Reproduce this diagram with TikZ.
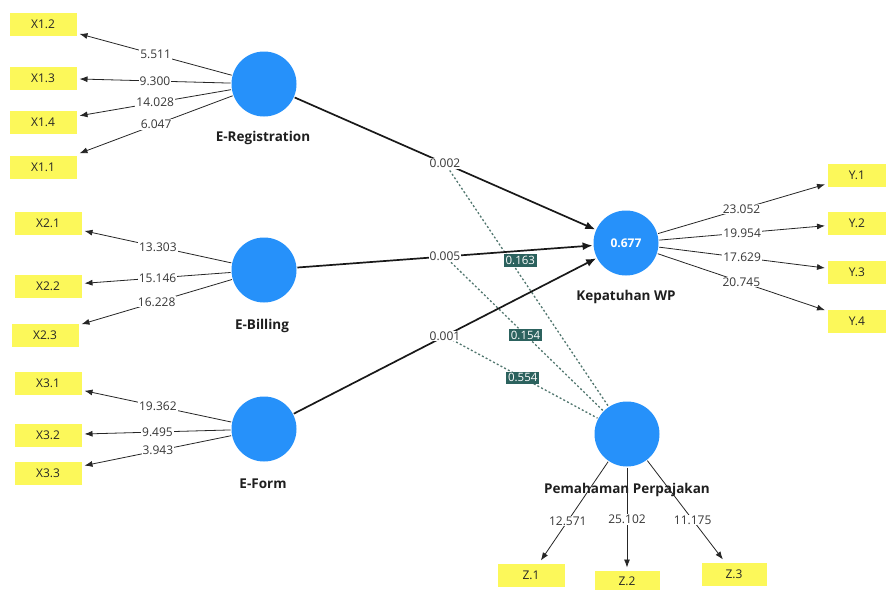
\documentclass[tikz,border=0pt]{standalone}
\usepackage{fontspec}
\setmainfont{Open Sans}
\usetikzlibrary{arrows.meta}

\definecolor{lvblue}{RGB}{38,145,250}
\definecolor{indyellow}{RGB}{252,248,90}
\definecolor{modteal}{RGB}{44,98,94}
\definecolor{moddot}{RGB}{80,118,110}
\definecolor{valgray}{RGB}{55,55,55}

\begin{document}
\begin{tikzpicture}[x=1pt,y=-1pt,
  font=\fontsize{12}{14}\selectfont,
  latent/.style={circle, fill=lvblue, minimum size=65pt, inner sep=0pt, outer sep=1pt},
  indicator/.style={rectangle, fill=indyellow, minimum width=67pt, minimum height=23pt,
    inner sep=0pt, outer sep=3pt, text=black!85, font=\fontsize{12}{14}\selectfont},
  narrowind/.style={indicator, minimum width=58pt},
  lvname/.style={font=\fontsize{13.5}{15}\selectfont\bfseries, text=black!88, inner sep=1pt},
  loading/.style={line width=0.8pt, draw=black!85, -{Latex[length=8pt,width=6pt]}},
  structural/.style={line width=1.7pt, draw=black!90, -{Latex[length=10pt,width=8pt]}},
  val/.style={fill=white, inner sep=1pt, text=valgray, font=\fontsize{12}{14}\selectfont},
  moderation/.style={draw=moddot, line width=1.3pt, dash pattern=on 2pt off 2.2pt},
  modval/.style={fill=modteal, text=white, inner xsep=2pt, inner ysep=2pt,
    font=\fontsize{11.5}{13}\selectfont}
]
\clip (0,0) rectangle (886,589);
\fill[white] (0,0) rectangle (886,589);

% latent variables
\node[latent] (ereg)  at (264,84)  {};
\node[latent] (ebill) at (264,270) {};
\node[latent] (eform) at (264,429) {};
\node[latent] (kwp)   at (626,243) {\textcolor{white}{\bfseries 0.677}};
\node[latent] (pp)    at (627,434) {};

\node[lvname] (eregname)  at (263,138) {E-Registration};
\node[lvname] (ebillname) at (262,326) {E-Billing};
\node[lvname] (eformname) at (263,484) {E-Form};
\node[lvname] (kwpname)   at (626,297) {Kepatuhan WP};

% indicators
\node[indicator] (x12) at (43,24)  {X1.2};
\node[indicator] (x13) at (43,78)  {X1.3};
\node[indicator] (x14) at (43,122) {X1.4};
\node[indicator] (x11) at (43,167) {X1.1};

\node[indicator] (x21) at (48,223) {X2.1};
\node[indicator] (x22) at (48,286) {X2.2};
\node[indicator] (x23) at (45,335) {X2.3};

\node[indicator] (x31) at (48,383) {X3.1};
\node[indicator] (x32) at (48,435) {X3.2};
\node[indicator] (x33) at (48,473) {X3.3};

\node[narrowind] (y1) at (857,175) {Y.1};
\node[narrowind] (y2) at (857,223) {Y.2};
\node[narrowind] (y3) at (857,272) {Y.3};
\node[narrowind] (y4) at (857,321) {Y.4};

\node[indicator] (z1) at (531,575) {Z.1};
\node[indicator, minimum width=65pt, minimum height=21pt] (z2) at (627,581) {Z.2};
\node[indicator, minimum width=65pt] (z3) at (734,574) {Z.3};

% midpoints of the structural paths
\path (ereg)  -- coordinate[midway] (m1) (kwp);
\path (ebill) -- coordinate[midway] (m2) (kwp);
\path (eform) -- coordinate[midway] (m3) (kwp);

% moderating effects
\draw[moderation] (m1) -- node[modval, pos=0.40, xshift=10pt] (mv1) {0.163} (pp);
\draw[moderation] (m2) -- node[modval, pos=0.51] (mv2) {0.154} (pp);
\draw[moderation] (m3) -- node[modval, pos=0.51] (mv3) {0.554} (pp);

% structural paths
\draw[structural] (ereg)  -- node[val] (p1) {0.002} (kwp);
\draw[structural] (ebill) -- node[val] (p2) {0.005} (kwp);
\draw[structural] (eform) -- node[val] (p3) {0.001} (kwp);

% outer loadings
\draw[loading] (ereg) -- node[val] {5.511}  (x12);
\draw[loading] (ereg) -- node[val] {9.300}  (x13);
\draw[loading] (ereg) -- node[val] {14.028} (x14);
\draw[loading] (ereg) -- node[val] {6.047}  (x11);

\draw[loading] (ebill) -- node[val] {13.303} (x21);
\draw[loading] (ebill) -- node[val] {15.146} (x22);
\draw[loading] (ebill) -- node[val] {16.228} (x23);

\draw[loading] (eform) -- node[val] {19.362} (x31);
\draw[loading] (eform) -- node[val] {9.495}  (x32);
\draw[loading] (eform) -- node[val] {3.943}  (x33);

\draw[loading] (kwp) -- node[val] {23.052} (y1);
\draw[loading] (kwp) -- node[val] {19.954} (y2);
\draw[loading] (kwp) -- node[val] {17.629} (y3);
\draw[loading] (kwp) -- node[val] {20.745} (y4);

\node[lvname] (ppname) at (627,490) {Pemahaman Perpajakan};

\draw[loading] (pp) -- node[val, pos=0.6]  {12.571} (z1);
\draw[loading] (pp) -- node[val, pos=0.52] {25.102} (z2);
\draw[loading] (pp) -- node[val, pos=0.6]  {11.175} (z3);
\end{tikzpicture}
\end{document}
